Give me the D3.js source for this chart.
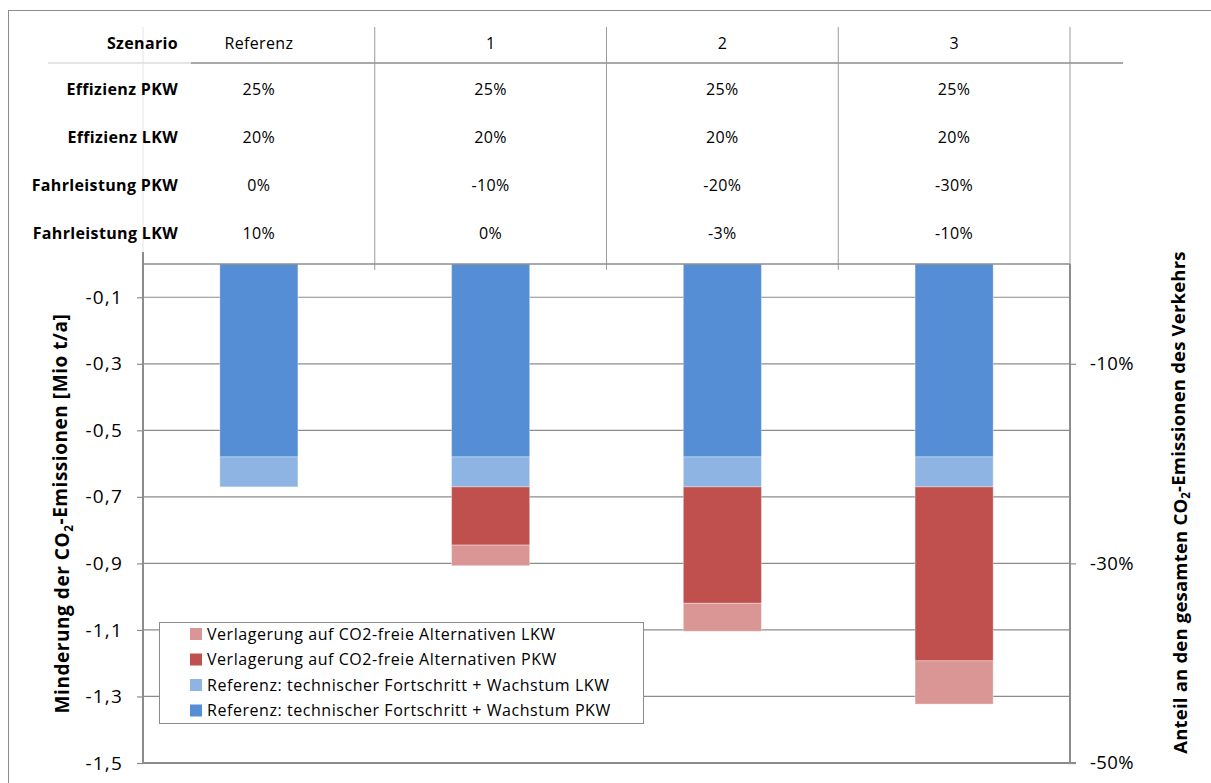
<!DOCTYPE html>
<html>
<head>
<meta charset="utf-8">
<script src="https://cdn.jsdelivr.net/npm/d3@7/dist/d3.min.js"></script>
<style>
  html, body { margin: 0; padding: 0; background: #fff; }
  svg { display: block; font-family: "Open Sans", Lato, sans-serif; }
</style>
</head>
<body>
<svg id="chart" width="1211" height="783"></svg>
<script>
// Scenarios and their parameter table
const scenarios = ["Referenz", "1", "2", "3"];
const tableRows = ["Effizienz PKW", "Effizienz LKW", "Fahrleistung PKW", "Fahrleistung LKW"];
const effizienzPKW = ["25%", "25%", "25%", "25%"];
const effizienzLKW = ["20%", "20%", "20%", "20%"];
const fahrleistungPKW = ["0%", "-10%", "-20%", "-30%"];
const fahrleistungLKW = ["10%", "0%", "-3%", "-10%"];

// CO2 reduction components per scenario [Mio t/a]
const refPKW = [-0.58, -0.58, -0.58, -0.58];
const refLKW = [-0.09, -0.09, -0.09, -0.09];
const shiftPKW = [0, -0.175, -0.35, -0.523];
const shiftLKW = [0, -0.062, -0.084, -0.13];

const seriesKeys = ["refPKW", "refLKW", "shiftPKW", "shiftLKW"];
const seriesLabels = {
  refPKW: "Referenz: technischer Fortschritt + Wachstum PKW",
  refLKW: "Referenz: technischer Fortschritt + Wachstum LKW",
  shiftPKW: "Verlagerung auf CO2-freie Alternativen PKW",
  shiftLKW: "Verlagerung auf CO2-freie Alternativen LKW"
};
const seriesColors = {
  refPKW: "#558ED5",
  refLKW: "#8EB4E3",
  shiftPKW: "#C0504D",
  shiftLKW: "#D99694"
};

// Axis ticks
const leftTicks = [-0.1, -0.3, -0.5, -0.7, -0.9, -1.1, -1.3, -1.5];
const rightTicks = [-0.1, -0.3, -0.5];

const rows = scenarios.map((s, i) => ({
  scenario: s,
  refPKW: refPKW[i], refLKW: refLKW[i], shiftPKW: shiftPKW[i], shiftLKW: shiftLKW[i]
}));
const tableValues = [effizienzPKW, effizienzLKW, fahrleistungPKW, fahrleistungLKW];

const de = d3.formatLocale({ decimal: ",", thousands: ".", grouping: [3], currency: ["", " €"], minus: "-", percent: "%" });
const fmtLeft = de.format(".1f");
const fmtRight = de.format(".0%");

const svg = d3.select("#chart");
const plot = { left: 143, right: 1070, top: 264, bottom: 763 };

const x = d3.scaleBand().domain(scenarios).range([plot.left, plot.right])
  .paddingInner(0.663).paddingOuter(0.3315);
const xCol = d3.scaleBand().domain(scenarios).range([plot.left, plot.right]);
const y = d3.scaleLinear().domain([0, -1.5]).range([plot.top, plot.bottom]);
const yRight = d3.scaleLinear().domain([0, -0.5]).range([plot.top, plot.bottom]);

// Outer chart frame
svg.append("rect").attr("x", 8.5).attr("y", 10.5).attr("width", 1220).attr("height", 800)
  .attr("fill", "none").attr("stroke", "#8c8c8c").attr("stroke-width", 1);

// Table grid
const tbl = svg.append("g");
tbl.append("line").attr("x1", plot.left).attr("x2", plot.left).attr("y1", 27).attr("y2", 252)
  .attr("stroke", "#e4e4e4").attr("stroke-width", 1);
tbl.append("line").attr("x1", 48).attr("x2", 191).attr("y1", 63).attr("y2", 63)
  .attr("stroke", "#dcdcdc").attr("stroke-width", 1.5);
tbl.append("line").attr("x1", 191).attr("x2", 1123).attr("y1", 63).attr("y2", 63)
  .attr("stroke", "#8c8c8c").attr("stroke-width", 1.5);
tbl.selectAll("line.col").data(scenarios).join("line").attr("class", "col")
  .attr("x1", d => xCol(d) + xCol.bandwidth()).attr("x2", d => xCol(d) + xCol.bandwidth())
  .attr("y1", 27).attr("y2", 270)
  .attr("stroke", "#9a9a9a").attr("stroke-width", 1);

const rowY = [43, 89, 137, 185, 233];
const tableFont = 16;
const tableSpacing = 0.35;
tbl.append("text").attr("x", 178).attr("y", rowY[0]).attr("dy", "0.35em")
  .attr("text-anchor", "end").attr("font-weight", "bold").attr("font-size", tableFont)
  .attr("letter-spacing", tableSpacing).attr("fill", "#000").text("Szenario");
tbl.selectAll("text.head").data(scenarios).join("text").attr("class", "head")
  .attr("x", d => xCol(d) + xCol.bandwidth() / 2).attr("y", rowY[0]).attr("dy", "0.35em")
  .attr("text-anchor", "middle").attr("font-size", tableFont).attr("letter-spacing", tableSpacing)
  .attr("fill", "#000").text(d => d);
tableRows.forEach((r, ri) => {
  tbl.append("text").attr("x", 178).attr("y", rowY[ri + 1]).attr("dy", "0.35em")
    .attr("text-anchor", "end").attr("font-weight", "bold").attr("font-size", tableFont)
    .attr("letter-spacing", tableSpacing).attr("fill", "#000").text(r);
  tbl.selectAll("text.v" + ri).data(tableValues[ri]).join("text").attr("class", "v" + ri)
    .attr("x", (d, i) => xCol(scenarios[i]) + xCol.bandwidth() / 2).attr("y", rowY[ri + 1]).attr("dy", "0.35em")
    .attr("text-anchor", "middle").attr("font-size", tableFont).attr("letter-spacing", tableSpacing)
    .attr("fill", "#000").text(d => d);
});

// Gridlines
svg.append("g").selectAll("line").data(leftTicks).join("line")
  .attr("x1", plot.left).attr("x2", plot.right)
  .attr("y1", d => y(d)).attr("y2", d => y(d))
  .attr("stroke", "#8c8c8c").attr("stroke-width", 1.2);

// Stacked bars
const stack = d3.stack().keys(seriesKeys).offset(d3.stackOffsetDiverging);
const layers = stack(rows);
svg.append("g").selectAll("g").data(layers).join("g")
  .attr("fill", d => seriesColors[d.key])
  .selectAll("rect").data(d => d).join("rect")
  .attr("x", d => x(d.data.scenario))
  .attr("width", x.bandwidth())
  .attr("y", d => y(Math.max(d[0], d[1])))
  .attr("height", d => Math.abs(y(d[0]) - y(d[1])))
  .attr("stroke", "rgba(255,255,255,0.35)").attr("stroke-width", 1);

// Plot frame lines
svg.append("line").attr("x1", plot.left).attr("x2", plot.right).attr("y1", plot.top).attr("y2", plot.top)
  .attr("stroke", "#8c8c8c").attr("stroke-width", 1.5);
svg.append("line").attr("x1", plot.left).attr("x2", plot.right + 6).attr("y1", plot.bottom).attr("y2", plot.bottom)
  .attr("stroke", "#8c8c8c").attr("stroke-width", 2);

// Left axis
const axL = svg.append("g").attr("transform", `translate(${plot.left},0)`)
  .call(d3.axisLeft(y).tickValues(leftTicks).tickSize(6).tickPadding(14).tickFormat(fmtLeft));
axL.select(".domain").attr("d", `M0,252V${plot.bottom}`).attr("stroke", "#8c8c8c").attr("stroke-width", 2);
axL.selectAll(".tick line").attr("stroke", "#8c8c8c").attr("stroke-width", 1.2);
axL.selectAll(".tick text").attr("font-size", 19).attr("letter-spacing", 1.2).attr("fill", "#000")
  .attr("font-family", "'Open Sans', Lato, sans-serif");

// Right axis
const axR = svg.append("g").attr("transform", `translate(${plot.right},0)`)
  .call(d3.axisRight(yRight).tickValues(rightTicks).tickSize(6).tickPadding(14).tickFormat(fmtRight));
axR.select(".domain").attr("d", `M0,${plot.top}V${plot.bottom}`).attr("stroke", "#8c8c8c").attr("stroke-width", 2);
axR.selectAll(".tick line").attr("stroke", "#8c8c8c").attr("stroke-width", 1.2);
axR.selectAll(".tick text").attr("font-size", 18.5).attr("letter-spacing", 0.4).attr("fill", "#000")
  .attr("font-family", "'Open Sans', Lato, sans-serif");

// Axis titles with CO2 subscript
function co2Title(sel, before, after) {
  sel.append("tspan").text(before + "CO");
  sel.append("tspan").attr("font-size", "0.62em").attr("dy", "0.3em").text("2");
  sel.append("tspan").attr("dy", "-0.3em").text(after);
}
const tL = svg.append("text").attr("transform", `translate(69,${(plot.top + plot.bottom) / 2}) rotate(-90)`)
  .attr("text-anchor", "middle").attr("font-weight", "bold").attr("font-size", 19)
  .attr("letter-spacing", 0.55).attr("fill", "#000");
co2Title(tL, "Minderung der ", "-Emissionen [Mio t/a]");
const tR = svg.append("text").attr("transform", `translate(1187,${(plot.top + plot.bottom) / 2 - 11}) rotate(-90)`)
  .attr("text-anchor", "middle").attr("font-weight", "bold").attr("font-size", 18.5)
  .attr("letter-spacing", 0.2).attr("fill", "#000");
co2Title(tR, "Anteil an den gesamten ", "-Emissionen des Verkehrs");

// Legend
const legendKeys = ["shiftLKW", "shiftPKW", "refLKW", "refPKW"];
const lg = svg.append("g");
lg.append("rect").attr("x", 159.5).attr("y", 622.5).attr("width", 484).attr("height", 101)
  .attr("fill", "#fff").attr("stroke", "#8c8c8c").attr("stroke-width", 1);
const li = lg.selectAll("g.item").data(legendKeys).join("g").attr("class", "item")
  .attr("transform", (d, i) => `translate(190,${634 + i * 25.5})`);
li.append("rect").attr("x", 0).attr("y", -6).attr("width", 12).attr("height", 12)
  .attr("fill", d => seriesColors[d]);
li.append("text").attr("x", 17).attr("y", 0).attr("dy", "0.35em").attr("font-size", 16)
  .attr("letter-spacing", 0.55).attr("fill", "#000").text(d => seriesLabels[d]);
</script>
</body>
</html>
